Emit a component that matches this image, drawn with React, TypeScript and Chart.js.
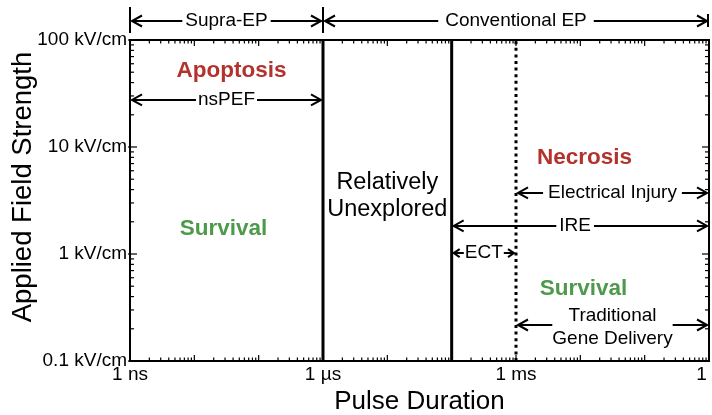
import React, { useEffect, useRef } from 'react';
import { Chart, registerables } from 'chart.js';

Chart.register(...registerables);

const FONT = '"Liberation Sans", Arial, Helvetica, sans-serif';
const RED = '#b2332e';
const GREEN = '#4e9a4c';

// ---- axes ----
const xMin = 1e-9;
const xMax = 1;
const yMin = 0.1;
const yMax = 100;
const xDecades = [1e-9, 1e-8, 1e-7, 1e-6, 1e-5, 1e-4, 1e-3, 1e-2, 1e-1, 1];
const yDecades = [0.1, 1, 10, 100];
const minorSteps = [1, 2, 3, 4, 5, 6, 7, 8, 9];
const xLabelValues = [1e-9, 1e-6, 1e-3, 1];
const xLabelTexts = ['1 ns', '1 µs', '1 ms', '1 s'];
const yLabelValues = [0.1, 1, 10, 100];
const yLabelTexts = ['0.1 kV/cm', '1 kV/cm', '10 kV/cm', '100 kV/cm'];
const xTitle = 'Pulse Duration';
const yTitle = 'Applied Field Strength';

// ---- regime boundaries (pulse duration, s) ----
const boundaryX = [1e-6, 1e-4, 1e-3];
const boundaryDashed = [false, false, true];

// ---- regimes above the plot ----
const regimeNames = ['Supra-EP', 'Conventional EP'];
const regimeFrom = [1e-9, 1e-6];
const regimeTo = [1e-6, 1];

// ---- application ranges (arrows) ----
const arrowNames = ['nsPEF', 'Electrical Injury', 'IRE', 'ECT'];
const arrowFrom = [1e-9, 1e-3, 1e-4, 1e-4];
const arrowTo = [1e-6, 1, 1, 1e-3];
const arrowY = [27.5, 3.72, 1.83, 1.02];
const arrowLabelX = [3.16e-8, 0.0316, 0.0083, 3.16e-4];

const geneLines = ['Traditional', 'Gene Delivery'];
const geneFrom = 1e-3;
const geneTo = 1;
const geneY = 0.217;
const geneLabelX = 0.0316;
const geneLabelY = 0.2056;

// ---- outcomes ----
const outcomeNames = ['Apoptosis', 'Survival', 'Necrosis', 'Survival'];
const outcomeX = [3.79e-8, 2.84e-8, 0.0116, 0.0112];
const outcomeY = [51.3, 1.72, 7.89, 0.471];
const outcomeColors = [RED, GREEN, RED, GREEN];

const unexploredLines = ['Relatively', 'Unexplored'];
const unexploredX = 1e-5;
const unexploredY = 3.45;

// ---- helpers ----
const sameLog = (a: number, b: number) => Math.abs(Math.log10(a) - Math.log10(b)) < 1e-6;
const isDecade = (v: number) => {
  const l = Math.log10(v);
  return Math.abs(l - Math.round(l)) < 1e-6;
};
const labelFor = (v: number, vals: number[], texts: string[]) => {
  const i = vals.findIndex((d) => sameLog(d, v));
  return i >= 0 ? texts[i] : '';
};
const xTickValues = xDecades
  .slice(0, -1)
  .flatMap((d) => minorSteps.map((m) => m * d))
  .concat([xMax]);
const yTickValues = yDecades
  .slice(0, -1)
  .flatMap((d) => minorSteps.map((m) => m * d))
  .concat([yMax]);

function arrowHead(ctx: CanvasRenderingContext2D, tip: number, yy: number, dir: number, len: number, half: number) {
  ctx.beginPath();
  ctx.moveTo(tip - dir * len, yy - half);
  ctx.lineTo(tip, yy);
  ctx.lineTo(tip - dir * len, yy + half);
  ctx.stroke();
}

function labeledArrow(
  ctx: CanvasRenderingContext2D,
  x1: number,
  x2: number,
  yy: number,
  lines: string[],
  cx: number,
  cy: number,
  lh: number,
  gap: number,
  head: [number, number]
) {
  ctx.font = `19px ${FONT}`;
  ctx.textAlign = 'center';
  ctx.textBaseline = 'middle';
  const w = Math.max(...lines.map((l) => ctx.measureText(l).width));
  lines.forEach((l, i) => ctx.fillText(l, cx, cy + (i - (lines.length - 1) / 2) * lh));
  const l1 = x1 + 2;
  const r2 = x2 - 2;
  ctx.beginPath();
  ctx.moveTo(l1, yy);
  ctx.lineTo(cx - w / 2 - gap, yy);
  ctx.moveTo(cx + w / 2 + gap, yy);
  ctx.lineTo(r2, yy);
  ctx.stroke();
  arrowHead(ctx, l1, yy, -1, head[0], head[1]);
  arrowHead(ctx, r2, yy, 1, head[0], head[1]);
}

const annotationPlugin = {
  id: 'annotations',
  afterDraw(chart: any) {
    const { ctx, chartArea: a, scales } = chart;
    const xs = scales.x;
    const ys = scales.y;
    const X = (v: number) => xs.getPixelForValue(v);
    const Y = (v: number) => ys.getPixelForValue(v);
    const seg = (x1: number, y1: number, x2: number, y2: number) => {
      ctx.beginPath();
      ctx.moveTo(x1, y1);
      ctx.lineTo(x2, y2);
      ctx.stroke();
    };
    ctx.save();
    ctx.strokeStyle = '#000';
    ctx.fillStyle = '#000';
    ctx.lineCap = 'butt';

    // frame
    ctx.lineWidth = 2;
    ctx.strokeRect(a.left, a.top, a.right - a.left, a.bottom - a.top);

    // tick marks (inward, all four sides)
    ctx.lineWidth = 1.2;
    xs.ticks.forEach((t: any) => {
      const px = X(t.value);
      const inL = isDecade(t.value) ? 6 : 3.5;
      seg(px, a.bottom, px, a.bottom - inL);
      seg(px, a.top, px, a.top + inL);
    });
    ys.ticks.forEach((t: any) => {
      const py = Y(t.value);
      const major = isDecade(t.value);
      const inL = major ? 7 : 4;
      seg(a.left - (major ? 2 : 0), py, a.left + inL, py);
      seg(a.right, py, a.right - inL, py);
    });

    // regime brackets above the plot
    ctx.lineWidth = 2;
    const bracketY = a.top - 19;
    const regimeGap = [3, 7];
    regimeFrom.forEach((f, i) => {
      const x1 = X(f);
      const x2 = X(regimeTo[i]);
      labeledArrow(ctx, x1, x2, bracketY, [regimeNames[i]], X(Math.sqrt(f * regimeTo[i])), bracketY, 20, regimeGap[i], [10, 5.5]);
    });
    const bars = [regimeFrom[0], ...regimeTo];
    bars.forEach((b, i) => {
      const px = X(b);
      if (i < bars.length - 1) seg(px, a.top - 33, px, a.top - 7);
      else seg(px - 1, a.top - 26, px - 1, a.top - 13);
    });

    // application arrows
    const arrowGap = [2, 5, 3, 1];
    arrowNames.forEach((n, i) => {
      const yy = Y(arrowY[i]);
      const head: [number, number] = n === 'ECT' ? [6, 4] : [10, 5.5];
      labeledArrow(ctx, X(arrowFrom[i]), X(arrowTo[i]), yy, [n], X(arrowLabelX[i]), yy, 20, arrowGap[i], head);
    });
    labeledArrow(ctx, X(geneFrom), X(geneTo), Y(geneY), geneLines, X(geneLabelX), Y(geneLabelY), 23, 0, [10, 5.5]);

    // outcome labels
    ctx.textAlign = 'center';
    ctx.textBaseline = 'middle';
    ctx.font = `bold 22.5px ${FONT}`;
    outcomeNames.forEach((n, i) => {
      ctx.fillStyle = outcomeColors[i];
      ctx.fillText(n, X(outcomeX[i]), Y(outcomeY[i]));
    });

    ctx.fillStyle = '#000';
    ctx.font = `23.5px ${FONT}`;
    unexploredLines.forEach((l, i) => {
      ctx.fillText(l, X(unexploredX), Y(unexploredY) + (i - 0.5) * 27);
    });

    // y-axis title
    ctx.save();
    ctx.translate(23.5, 187);
    ctx.rotate(-Math.PI / 2);
    ctx.font = `27.5px ${FONT}`;
    ctx.fillText(yTitle, 0, 0);
    ctx.restore();

    ctx.restore();
  },
};

export default function App() {
  const ref = useRef<HTMLCanvasElement>(null);
  useEffect(() => {
    if (!ref.current) return;
    const datasets = boundaryX.map((bx, i) => ({
      data: [
        { x: bx, y: yMin },
        { x: bx, y: yMax },
      ],
      showLine: true,
      borderColor: '#000',
      borderWidth: 3,
      borderDash: boundaryDashed[i] ? [3, 3.6] : [],
      borderCapStyle: 'butt',
      pointRadius: 0,
      fill: false,
    }));
    const chart = new Chart(ref.current, {
      type: 'scatter',
      data: { datasets },
      options: {
        responsive: false,
        animation: false,
        events: [],
        layout: { padding: { top: 40, right: 3, left: 0, bottom: 0 } },
        plugins: { legend: { display: false }, tooltip: { enabled: false } },
        scales: {
          x: {
            type: 'logarithmic',
            position: 'bottom',
            min: xMin,
            max: xMax,
            afterBuildTicks: (s: any) => {
              s.ticks = xTickValues.map((v) => ({ value: v }));
            },
            afterFit: (s: any) => {
              s.height = 54;
              s.paddingLeft = 0;
              s.paddingRight = 0;
            },
            grid: { display: false, drawTicks: false },
            border: { display: false },
            ticks: {
              autoSkip: false,
              maxRotation: 0,
              minRotation: 0,
              padding: 2,
              color: '#000',
              font: { size: 19, family: FONT },
              callback: (v: any) => labelFor(Number(v), xLabelValues, xLabelTexts),
            },
            title: {
              display: true,
              text: xTitle,
              color: '#000',
              font: { size: 26, family: FONT, lineHeight: 1 },
              padding: { top: 0, bottom: 0 },
            },
          },
          y: {
            type: 'logarithmic',
            position: 'left',
            min: yMin,
            max: yMax,
            afterBuildTicks: (s: any) => {
              s.ticks = yTickValues.map((v) => ({ value: v }));
            },
            afterFit: (s: any) => {
              s.width = 130;
              s.paddingTop = 0;
              s.paddingBottom = 0;
            },
            grid: { display: false, drawTicks: false },
            border: { display: false },
            ticks: {
              autoSkip: false,
              padding: 3,
              color: '#000',
              font: { size: 19, family: FONT },
              callback: (v: any) => labelFor(Number(v), yLabelValues, yLabelTexts),
            },
          },
        },
      },
      plugins: [annotationPlugin],
    } as any);
    return () => chart.destroy();
  }, []);
  return (
    <div style={{ position: 'absolute', left: 0, top: 0, width: 712, height: 415, background: '#fff' }}>
      <canvas ref={ref} width={712} height={415} style={{ display: 'block', width: 712, height: 415 }} />
    </div>
  );
}
